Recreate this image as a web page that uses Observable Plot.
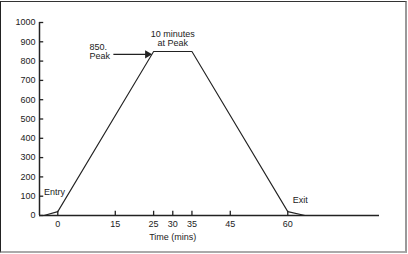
<!DOCTYPE html>
<html>
<head>
<meta charset="utf-8">
<script src="https://cdn.jsdelivr.net/npm/d3@7"></script>
<script src="https://cdn.jsdelivr.net/npm/@observablehq/plot@0.6"></script>
<style>
  html, body { margin: 0; padding: 0; background: #fff; }
  #wrap { position: relative; width: 408px; height: 254px; overflow: hidden; }
  #frame { position: absolute; left: 0px; top: 1px; width: 404px; height: 249px;
           border-left: 1.5px solid #222; border-top: 1.5px solid #333;
           border-right: 2px solid #999; border-bottom: 2px solid #aaa; box-sizing: content-box; pointer-events: none; }
  svg { display: block; }
</style>
</head>
<body>
<div id="wrap"><div id="frame"></div></div>
<script>
// Dive profile: time (mins) vs depth
const times  = [-3.6, 0, 25, 35, 60, 64.5];
const depths = [0, 20, 850, 850, 20, 0];
const xTicks = [0, 15, 25, 30, 35, 45, 60];
const yTicks = [0, 100, 200, 300, 400, 500, 600, 700, 800, 900, 1000];
const xDomain = [-4.77, 83.93];
const yDomain = [0, 1000];

const profile = times.map((t, i) => ({t, d: depths[i]}));
const leftLabels = [
  {t: -3.6, d: 120, text: "Entry"},
  {t: 61.3, d: 82, text: "Exit"},
  {t: 8.3, d: 850, text: "850.\nPeak"}
];
const centerLabels = [
  {t: 30, d: 915, text: "10 minutes\nat Peak"}
];
const arrowFrom = {t: 14.5, d: 835};
const arrowTo = {t: 23.4, d: 835};

const ink = "#222";
const font = "Liberation Sans, Arial, Helvetica, sans-serif";
const fs = 9;

const chart = Plot.plot({
  width: 408,
  height: 254,
  marginLeft: 39,
  marginRight: 29,
  marginTop: 22,
  marginBottom: 39,
  style: {fontFamily: font, fontSize: fs + "px", color: ink, background: "transparent", overflow: "visible"},
  x: {domain: xDomain},
  y: {domain: yDomain},
  marks: [
    // y axis labels and inward ticks
    Plot.axisY({ticks: yTicks, tickSize: 0, tickPadding: 4, tickFormat: d => String(d), label: null, fill: ink}),
    Plot.ruleY(yTicks, {y: d => d, x1: xDomain[0], x2: xDomain[0] + 1.1, stroke: ink, strokeWidth: 1.3}),
    Plot.ruleX([xDomain[0]], {y1: 0, y2: 1000, stroke: ink, strokeWidth: 1.5}),
    // x axis labels and inward ticks
    Plot.axisX({ticks: xTicks, tickSize: 0, tickPadding: 5, tickFormat: d => String(d), label: null, fill: ink}),
    Plot.ruleX(xTicks, {x: d => d, y1: 0, y2: 22, stroke: ink, strokeWidth: 1.3}),
    Plot.ruleY([0], {stroke: ink, strokeWidth: 1.5}),
    Plot.text(["Time (mins)"], {x: 30, y: -110, text: d => d, fill: ink, fontSize: fs}),
    // profile line
    Plot.line(profile, {x: "t", y: "d", stroke: ink, strokeWidth: 1.1}),
    // annotations
    Plot.text(leftLabels, {x: "t", y: "d", text: "text", textAnchor: "start", fill: ink, lineHeight: 1.0, fontSize: fs}),
    Plot.text(centerLabels, {x: "t", y: "d", text: "text", textAnchor: "middle", fill: ink, lineHeight: 1.0, fontSize: fs}),
    Plot.link([0], {x1: () => arrowFrom.t, y1: () => arrowFrom.d, x2: () => arrowTo.t, y2: () => arrowTo.d, stroke: ink, strokeWidth: 1.4}),
    Plot.dot([arrowTo], {x: "t", y: "d", symbol: "triangle", r: 3, rotate: 90, fill: ink, stroke: null})
  ]
});
document.getElementById("wrap").prepend(chart);
</script>
</body>
</html>
